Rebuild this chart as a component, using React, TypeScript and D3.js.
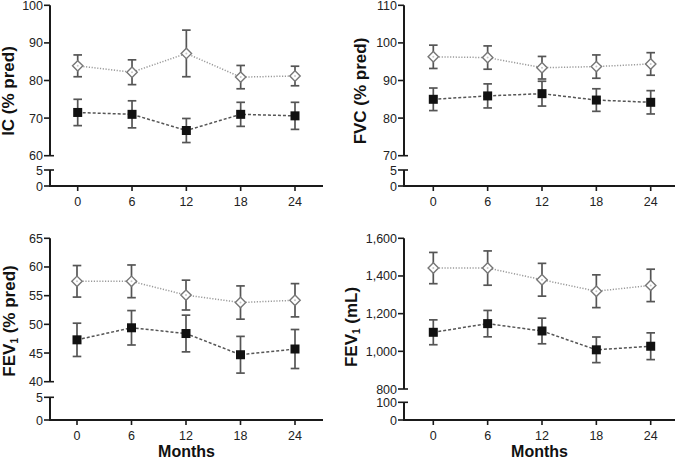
import React from "react";
import * as d3 from "d3";

const months = [0, 6, 12, 18, 24];

const icOpen = [83.9, 82.2, 87.2, 80.9, 81.2];
const icOpenErr = [2.9, 3.3, 6.2, 3.1, 2.6];
const icFilled = [71.5, 71.0, 66.7, 71.0, 70.6];
const icFilledErr = [3.5, 3.6, 3.2, 3.2, 3.6];

const fvcOpen = [96.3, 96.1, 93.4, 93.7, 94.4];
const fvcOpenErr = [3.1, 3.1, 3.0, 3.1, 3.0];
const fvcFilled = [85.0, 85.9, 86.5, 84.8, 84.2];
const fvcFilledErr = [3.0, 3.2, 3.3, 3.0, 3.1];

const fev1PctOpen = [57.5, 57.5, 55.1, 53.8, 54.2];
const fev1PctOpenErr = [2.75, 2.85, 2.6, 2.9, 2.9];
const fev1PctFilled = [47.3, 49.4, 48.4, 44.7, 45.7];
const fev1PctFilledErr = [2.9, 3.0, 3.2, 3.2, 3.4];

const fev1MlOpen = [1442, 1442, 1380, 1319, 1350];
const fev1MlOpenErr = [83, 91, 87, 87, 86];
const fev1MlFilled = [1101, 1147, 1108, 1008, 1027];
const fev1MlFilledErr = [66, 70, 68, 68, 71];

const icTicks = [60, 70, 80, 90, 100];
const fvcTicks = [70, 80, 90, 100, 110];
const fev1PctTicks = [40, 45, 50, 55, 60, 65];
const fev1MlTicks = [800, 1000, 1200, 1400, 1600];
const smallLowTicks = [0, 5];
const mlLowTicks = [0, 100];

type Layout = {
  axisX: number;
  xEnd: number;
  x0: number;
  x24: number;
  yTop: number;
  yUpperMin: number;
  yLowTop: number;
  yZero: number;
  labelX: number;
  labelY: number;
  showMonths: boolean;
};

const font = "'Liberation Sans', Arial, Helvetica, sans-serif";
const axisColor = "#1a1a1a";
const errColor = "#555";

type PanelProps = {
  layout: Layout;
  upperTicks: number[];
  lowerTicks: number[];
  fmt: (v: number) => string;
  open: number[];
  openErr: number[];
  filled: number[];
  filledErr: number[];
  label: React.ReactNode;
};

function Panel({ layout: L, upperTicks, lowerTicks, fmt, open, openErr, filled, filledErr, label }: PanelProps) {
  const x = d3.scaleLinear().domain([0, 24]).range([L.x0, L.x24]);
  const yU = d3
    .scaleLinear()
    .domain([upperTicks[0], upperTicks[upperTicks.length - 1]])
    .range([L.yUpperMin, L.yTop]);
  const yL = d3.scaleLinear().domain([lowerTicks[0], lowerTicks[1]]).range([L.yZero, L.yLowTop]);

  const lineOf = d3
    .line<number>()
    .x((_, i) => x(months[i]))
    .y((d) => yU(d));

  const tickLen = 6;
  const capW = 4.3;

  return (
    <g>
      <line x1={L.axisX} x2={L.axisX} y1={yU.range()[1]} y2={yU.range()[0]} stroke={axisColor} strokeWidth={2} />
      {upperTicks.map((t, i) => (
        <g key={"ut" + t}>
          <line
            x1={L.axisX - tickLen}
            x2={i === 0 ? L.axisX + 4 : L.axisX}
            y1={yU(t)}
            y2={yU(t)}
            stroke={axisColor}
            strokeWidth={1.6}
          />
          <text x={L.axisX - tickLen - 1} y={yU(t)} dy="0.36em" textAnchor="end" fontSize={12.5} fontFamily={font} fill="#222">
            {fmt(t)}
          </text>
        </g>
      ))}
      <line x1={L.axisX} x2={L.axisX} y1={yL(lowerTicks[1])} y2={yL(lowerTicks[0])} stroke={axisColor} strokeWidth={2} />
      {lowerTicks.map((t, i) => (
        <g key={"lt" + t}>
          <line
            x1={L.axisX - tickLen}
            x2={i === 1 ? L.axisX + 4 : L.axisX}
            y1={yL(t)}
            y2={yL(t)}
            stroke={axisColor}
            strokeWidth={1.6}
          />
          <text x={L.axisX - tickLen - 1} y={yL(t)} dy="0.36em" textAnchor="end" fontSize={12.5} fontFamily={font} fill="#222">
            {fmt(t)}
          </text>
        </g>
      ))}
      <line x1={L.axisX - 1} x2={L.xEnd} y1={L.yZero} y2={L.yZero} stroke={axisColor} strokeWidth={2} />
      {months.map((m) => (
        <g key={"xt" + m}>
          <line x1={x(m)} x2={x(m)} y1={L.yZero} y2={L.yZero + 5} stroke={axisColor} strokeWidth={1.6} />
          <text x={x(m)} y={L.yZero + 20} textAnchor="middle" fontSize={12.5} fontFamily={font} fill="#222">
            {m}
          </text>
        </g>
      ))}
      {L.showMonths && (
        <text x={(L.axisX + L.xEnd) / 2} y={457} textAnchor="middle" fontSize={16} fontWeight="bold" fontFamily={font} fill="#111">
          Months
        </text>
      )}
      <text
        transform={`translate(${L.labelX},${L.labelY}) rotate(-90)`}
        dy="0.36em"
        textAnchor="middle"
        fontSize={17}
        fontWeight="bold"
        fontFamily={font}
        fill="#111"
      >
        {label}
      </text>
      <path d={lineOf(open) || ""} fill="none" stroke="#9a9a9a" strokeWidth={1.5} strokeDasharray="1.2,1.6" />
      <path d={lineOf(filled) || ""} fill="none" stroke="#555" strokeWidth={1.5} strokeDasharray="3,2" />
      {[
        { v: open, e: openErr, k: "o" },
        { v: filled, e: filledErr, k: "f" },
      ].map((s) =>
        s.v.map((d, i) => {
          const cx = x(months[i]);
          const yt = yU(d + s.e[i]);
          const yb = yU(d - s.e[i]);
          return (
            <g key={s.k + i} stroke={errColor} strokeWidth={1.7}>
              <line x1={cx} x2={cx} y1={yt} y2={yb} />
              <line x1={cx - capW} x2={cx + capW} y1={yt} y2={yt} />
              <line x1={cx - capW} x2={cx + capW} y1={yb} y2={yb} />
            </g>
          );
        })
      )}
      {open.map((d, i) => {
        const cx = x(months[i]);
        const cy = yU(d);
        const r = 5.2;
        return (
          <g key={"om" + i}>
            <path d={`M${cx},${cy - r}L${cx + r},${cy}L${cx},${cy + r}L${cx - r},${cy}Z`} fill="#fff" stroke="#777" strokeWidth={1.4} />
            <circle cx={cx} cy={cy} r={1} fill="#c8c8c8" />
          </g>
        );
      })}
      {filled.map((d, i) => {
        const cx = x(months[i]);
        const cy = yU(d);
        const s = 9;
        return <rect key={"fm" + i} x={cx - s / 2} y={cy - s / 2} width={s} height={s} fill="#111" />;
      })}
    </g>
  );
}

const L1: Layout = { axisX: 50, xEnd: 323, x0: 77.7, x24: 295, yTop: 5.3, yUpperMin: 155.7, yLowTop: 170, yZero: 186, labelX: 8, labelY: 91, showMonths: false };
const L2: Layout = { axisX: 404, xEnd: 675, x0: 433.3, x24: 650.7, yTop: 5.3, yUpperMin: 155.7, yLowTop: 170, yZero: 186, labelX: 360, labelY: 91, showMonths: false };
const L3: Layout = { axisX: 50, xEnd: 323, x0: 77, x24: 295, yTop: 238.3, yUpperMin: 381.7, yLowTop: 397.3, yZero: 420, labelX: 9, labelY: 321, showMonths: true };
const L4: Layout = { axisX: 404, xEnd: 675, x0: 433.3, x24: 650.7, yTop: 238.3, yUpperMin: 389, yLowTop: 402.3, yZero: 420, labelX: 351, labelY: 327, showMonths: true };

const fmtPlain = (v: number) => String(v);
const fmtComma = d3.format(",");

export default function App() {
  return (
    <svg
      width={680}
      height={459}
      viewBox="0 0 680 459"
      style={{ position: "absolute", left: 0, top: 0, background: "#fff" }}
    >
      <rect width={680} height={459} fill="#fff" />
      <Panel
        layout={L1}
        upperTicks={icTicks}
        lowerTicks={smallLowTicks}
        fmt={fmtPlain}
        open={icOpen}
        openErr={icOpenErr}
        filled={icFilled}
        filledErr={icFilledErr}
        label="IC (% pred)"
      />
      <Panel
        layout={L2}
        upperTicks={fvcTicks}
        lowerTicks={smallLowTicks}
        fmt={fmtPlain}
        open={fvcOpen}
        openErr={fvcOpenErr}
        filled={fvcFilled}
        filledErr={fvcFilledErr}
        label="FVC (% pred)"
      />
      <Panel
        layout={L3}
        upperTicks={fev1PctTicks}
        lowerTicks={smallLowTicks}
        fmt={fmtPlain}
        open={fev1PctOpen}
        openErr={fev1PctOpenErr}
        filled={fev1PctFilled}
        filledErr={fev1PctFilledErr}
        label={
          <>
            FEV
            <tspan fontSize={10} dy={3}>1</tspan>
            <tspan dy={-3}> (% pred)</tspan>
          </>
        }
      />
      <Panel
        layout={L4}
        upperTicks={fev1MlTicks}
        lowerTicks={mlLowTicks}
        fmt={fmtComma}
        open={fev1MlOpen}
        openErr={fev1MlOpenErr}
        filled={fev1MlFilled}
        filledErr={fev1MlFilledErr}
        label={
          <>
            FEV
            <tspan fontSize={10} dy={3}>1</tspan>
            <tspan dy={-3}> (mL)</tspan>
          </>
        }
      />
    </svg>
  );
}
